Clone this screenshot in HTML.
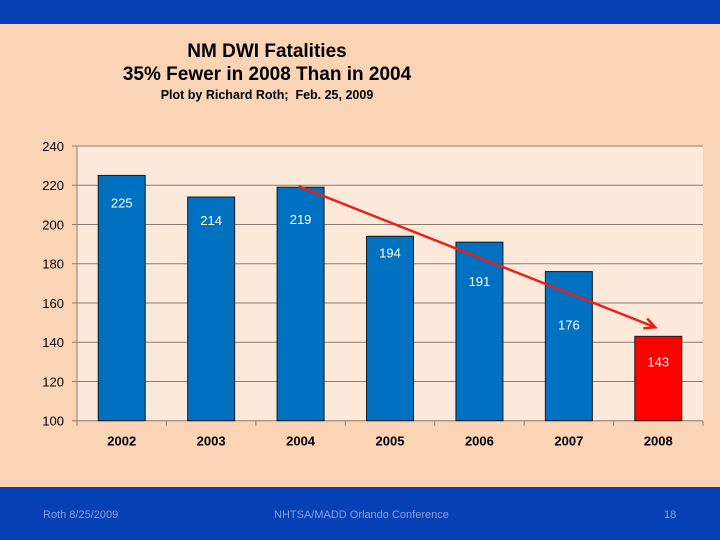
<!DOCTYPE html>
<html><head><meta charset="utf-8"><style>
body{margin:0;width:720px;height:540px;overflow:hidden;background:#fad4b4;font-family:"Liberation Sans",sans-serif;position:relative}
.t{position:absolute;width:534px;left:0;text-align:center;font-weight:bold;color:#000}
</style></head><body>
<div style="position:absolute;left:0;top:0;width:720px;height:24px;background:#0540b4"></div>
<div class="t" style="top:41px;font-size:19px">NM DWI Fatalities</div>
<div class="t" style="top:64px;font-size:19px">35% Fewer in 2008 Than in 2004</div>
<div class="t" style="top:88px;font-size:12.5px">Plot by Richard Roth;&nbsp; Feb. 25, 2009</div>
<svg id="c" width="720" height="540" style="position:absolute;left:0;top:0"></svg>
<div style="position:absolute;left:0;top:487px;width:720px;height:53px;background:#0540b4;font-family:'Liberation Sans',sans-serif;font-size:11px;color:#8aa0dd">
<span style="position:absolute;left:43px;top:22px">Roth 8/25/2009</span>
<span style="position:absolute;left:274px;top:22px">NHTSA/MADD Orlando Conference</span>
<span style="position:absolute;left:664px;top:22px">18</span>
</div>
<script>
const categories=["2002","2003","2004","2005","2006","2007","2008"];
const values=[225,214,219,194,191,176,143];
const yTicks=[100,120,140,160,180,200,220,240];
const labelOffsets=[27,23,32,16,39,53,25];
const arrowFrom=2, arrowTo=6;
const NS="http://www.w3.org/2000/svg";
const svg=document.getElementById('c');
const L=77,R=703,T=146,B=420.7;
const y=v=>B-(v-100)/140*(B-T);
const bw=(R-L)/categories.length;
const x=i=>L+bw*(i+0.5);
function mk(t,a){const e=document.createElementNS(NS,t);for(const k in a)e.setAttribute(k,a[k]);svg.appendChild(e);return e;}
let bg=mk('rect',{x:L,y:T,width:R-L,height:B-T,fill:'#fde9d9'});


yTicks.forEach(v=>{
 let g=mk('line',{x1:L-5,x2:R,y1:y(v),y2:y(v),stroke:'#8c7b70','stroke-width':1});
 
 
 let t=mk('text',{x:L-13,y:y(v)+5,'text-anchor':'end','font-size':13,fill:'#000'});
 t.textContent=v;
 
 
});
let ax=mk('line',{x1:L,x2:L,y1:T,y2:B,stroke:'#8c7b70'});


for(let i=0;i<=categories.length;i++){let tk=mk('line',{x1:L+bw*i,x2:L+bw*i,y1:B,y2:B+5,stroke:'#8c7b70'});
 
 }
categories.forEach((c,i)=>{
 const v=values[i];const w=47;
 let b=mk('rect',{x:x(i)-w/2,y:y(v),width:w,height:B-y(v),fill:i==6?'#ff0000':'#0070c0',stroke:'#1a1a1a','stroke-width':1});
 
 
 let l=mk('text',{x:x(i),y:y(v)+labelOffsets[i]+5,'text-anchor':'middle','font-size':13,fill:'#fff'});
 l.textContent=v;
 
 
 let xt=mk('text',{x:x(i),y:B+25,'text-anchor':'middle','font-size':13,'font-weight':'bold',fill:'#000'});
 xt.textContent=c;
 
 
});
const x1=x(arrowFrom)-2,y1=y(values[arrowFrom])-1,x2=x(arrowTo)-3,y2=y(values[arrowTo])-9;
let ar=mk('line',{x1:x1,y1:y1,x2:x2,y2:y2,stroke:'#e2231a','stroke-width':2.5});


const ang=Math.atan2(y2-y1,x2-x1),h=12;
let hd=mk('polyline',{points:`${x2-h*Math.cos(ang-0.45)},${y2-h*Math.sin(ang-0.45)} ${x2},${y2} ${x2-h*Math.cos(ang+0.45)},${y2-h*Math.sin(ang+0.45)}`,fill:'none',stroke:'#e2231a','stroke-width':2.5});


</script>
</body></html>
